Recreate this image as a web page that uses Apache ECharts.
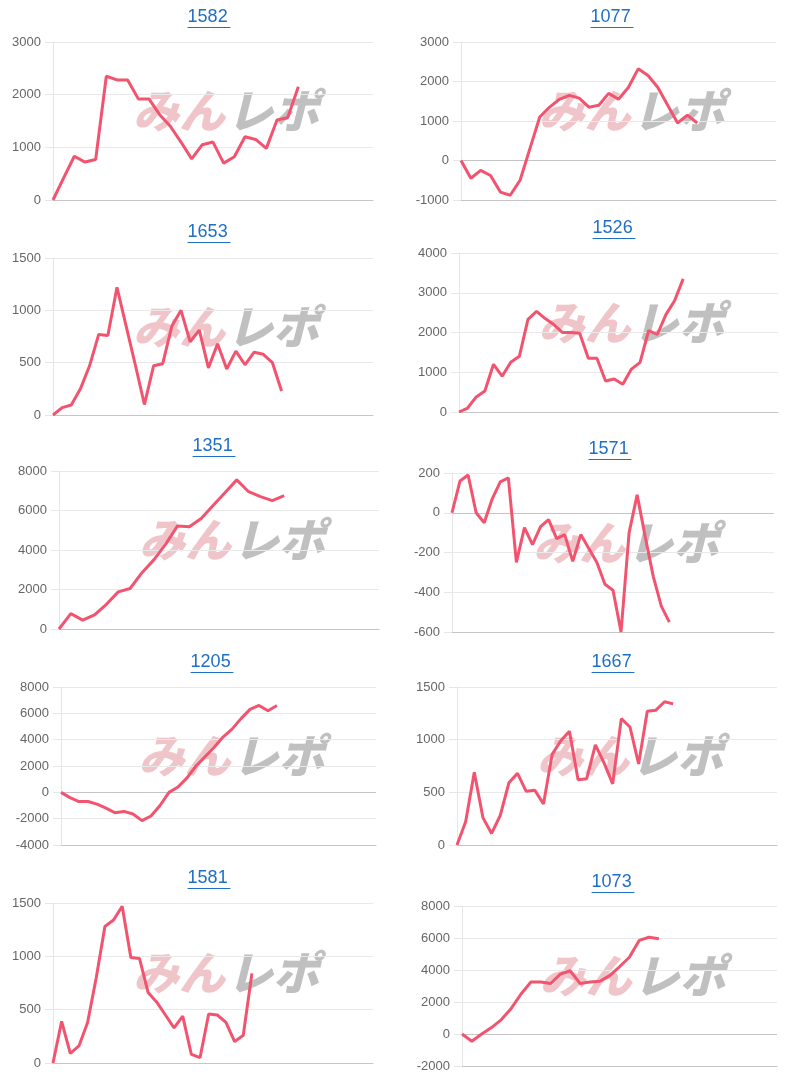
<!DOCTYPE html>
<html><head><meta charset="utf-8">
<script src="https://cdn.jsdelivr.net/npm/echarts@6/dist/echarts.min.js"></script>
<style>html,body{margin:0;padding:0;background:#fff}#c{width:800px;height:1080px}</style>
</head><body><div id="c"></div>
<script>
// ---- data ----
const titles = ['1582','1077','1653','1526','1351','1571','1205','1667','1581','1073'];
const s1582 = [0,420,830,720,770,2350,2280,2280,1920,1920,1620,1400,1100,780,1050,1100,700,820,1200,1150,980,1520,1560,2150];
const s1077 = [0,-450,-250,-380,-800,-880,-500,300,1100,1350,1550,1650,1580,1350,1400,1700,1550,1850,2320,2150,1850,1400,950,1150,950];
const s1653 = [0,70,95,250,470,770,760,1220,850,480,100,470,490,850,1000,700,810,450,680,440,610,480,600,580,500,230];
const s1526 = [0,100,380,530,1200,900,1250,1400,2330,2530,2350,2200,2000,2000,1980,1350,1350,780,830,700,1080,1250,2050,1950,2450,2800,3350];
const s1351 = [0,780,450,720,1250,1880,2050,2850,3500,4300,5220,5180,5600,6250,6900,7550,6950,6700,6500,6750];
const s1571 = [0,160,190,0,-50,70,155,175,-250,-75,-160,-70,-35,-130,-110,-245,-110,-180,-250,-360,-390,-600,-100,90,-120,-320,-470,-550];
const s1205 = [0,-400,-700,-700,-900,-1200,-1550,-1450,-1650,-2150,-1800,-1000,0,400,1100,2000,2700,3400,4200,4800,5600,6300,6600,6200,6600];
const s1667 = [0,220,690,260,110,280,590,680,510,520,390,860,990,1080,620,630,950,780,580,1200,1120,770,1270,1280,1360,1340];
const s1581 = [0,390,90,160,380,800,1280,1340,1470,990,980,660,570,450,330,440,80,50,460,450,380,200,260,840];
const s1073 = [0,-450,0,400,900,1600,2500,3250,3250,3150,3750,3950,3150,3250,3300,3650,4200,4800,5850,6050,5950];
const seriesData = [s1582,s1077,s1653,s1526,s1351,s1571,s1205,s1667,s1581,s1073];
const catCounts = [31,33,36,38,28,41,36,38,38,33];
const yMin  = [0,-1000,0,0,0,-600,-4000,0,0,-2000];
const yMax  = [3000,3000,1500,4000,8000,200,8000,1500,1500,8000];
const yStep = [1000,1000,500,1000,2000,200,2000,500,500,2000];

// ---- layout (px): plot left, plot right, plot top, plot bottom, title x, title y ----
const layout = [
  [53,373,42,200,209,18],
  [461,776,42,200,612,18],
  [53,373,258,415,209,233],
  [459,778,253,412,614,229],
  [59,379,471,629,214,447],
  [452,774,473,632,610,450],
  [61,376,687,845,212,663],
  [457,777,687,845,613,663],
  [53,373,903,1063,209,879],
  [462,777,906,1066,613,883]
];

const chart = echarts.init(document.getElementById('c'), null, {renderer:'canvas'});
const grid=[], xAxis=[], yAxis=[], series=[], graphic=[];
const LINE='#f2546f';
seriesData.forEach((d,i)=>{
  const [l,r,t,b,tx,ty]=layout[i];
  grid.push({left:l, top:t, width:r-l, height:b-t, containLabel:false});
  const cats=[]; for(let k=1;k<=catCounts[i];k++) cats.push(String(k));
  xAxis.push({gridIndex:i, type:'category', data:cats, boundaryGap:false,
    axisLabel:{show:false}, axisTick:{show:false},
    axisLine:{show:true, onZero:false, lineStyle:{color:'#c6c6c6', width:1}},
    splitLine:{show:false}});
  yAxis.push({gridIndex:i, type:'value', min:yMin[i], max:yMax[i], interval:yStep[i],
    axisLine:{show:true, lineStyle:{color:'#e6e6e6'}},
    axisTick:{show:true, length:8, lineStyle:{color:'#e6e6e6'}},
    axisLabel:{color:'#666', fontSize:13, fontFamily:'"Liberation Sans", Arial, sans-serif', margin:12,
      formatter:(v)=>String(v)},
    splitLine:{show:true, lineStyle:{color:'#e9e9e9', width:1}}});
  const s={type:'line', xAxisIndex:i, yAxisIndex:i, data:d, showSymbol:false, symbol:'none',
    lineStyle:{color:LINE, width:3}, itemStyle:{color:LINE}, z:5, animation:false};
  if(yMin[i]<0){
    s.markLine={silent:true, symbol:'none', label:{show:false}, animation:false,
      lineStyle:{color:'#c4c4c4', width:1, type:'solid'}, data:[{yAxis:0}]};
  }
  series.push(s);
  // title (underlined link style)
  const w = titles[i].length*10.2;
  graphic.push({type:'text', left:tx-w/2-1, top:ty-10, z:10,
    style:{text:titles[i], fill:'#1f6fc5', font:'18px "Liberation Sans", Arial, sans-serif'}});
  graphic.push({type:'rect', shape:{x:tx-w/2-1, y:ty+9, width:w+2, height:1}, z:10,
    style:{fill:'#1f6fc5'}});
  // watermark
  const cx=(l+r)/2+17, cy=(t+b)/2-10;
  graphic.push({type:'text', x:cx-97, y:cy, z:0,
    style:{text:'みん', fill:'rgba(228,150,156,0.55)', font:'italic 900 46px "Noto Sans CJK JP"', textVerticalAlign:'middle'}});
  graphic.push({type:'text', x:cx-3, y:cy, z:0,
    style:{text:'レポ', fill:'rgba(165,165,165,0.7)', font:'italic 900 46px "Noto Sans CJK JP"', textVerticalAlign:'middle'}});
});
chart.setOption({animation:false, grid, xAxis, yAxis, series, graphic});
</script></body></html>
